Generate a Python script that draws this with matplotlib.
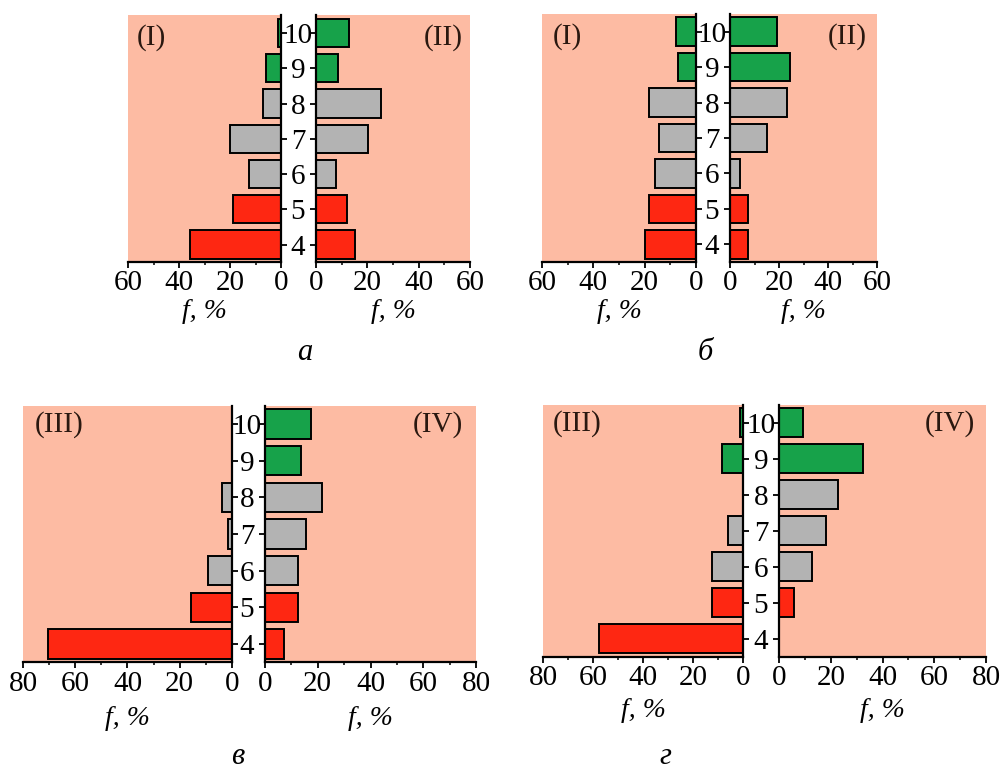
import matplotlib
matplotlib.use("Agg")
import matplotlib.pyplot as plt
import numpy as np

plt.rcParams['font.family'] = ['Liberation Serif', 'DejaVu Serif']

# grain size classes (y axis)
classes = [4, 5, 6, 7, 8, 9, 10]

# frequencies f, %
a_I = [35.7, 19, 12.5, 20, 7, 6, 1.3]
a_II = [15, 12, 7.6, 20.2, 25.5, 8.7, 12.7]
b_I = [19.8, 18.2, 15.9, 14.3, 18.5, 6.9, 7.8]
b_II = [7.5, 7.5, 4.2, 15, 23.2, 24.4, 19.1]
v_III = [70.5, 15.6, 9.2, 1.5, 3.8, 0, 0]
v_IV = [7.3, 12.7, 12.6, 15.4, 21.8, 13.6, 17.3]
g_III = [57.8, 12.6, 12.4, 6.1, 0, 8.6, 1.3]
g_IV = [0, 5.8, 12.9, 18.1, 22.7, 32.5, 9.4]

RED, GRAY, GREEN = '#fe2712', '#b3b3b3', '#17a24a'
BG = '#fdbba3'
colors = [RED, RED, GRAY, GRAY, GRAY, GREEN, GREEN]
FS = 21

fig = plt.figure(figsize=(10, 7.71), dpi=100)


def style(ax, side, lpad):
    ax.set_facecolor(BG)
    ax.set_ylim(3.5, 10.5)
    for s in ax.spines.values():
        s.set_visible(False)
    ax.spines['bottom'].set_visible(True)
    ax.spines[side].set_visible(True)
    for s in ('bottom', side):
        ax.spines[s].set_linewidth(1.6)
    ax.tick_params(axis='x', direction='out', length=4, width=1.3, pad=2,
                   labelsize=FS)
    ax.tick_params(axis='x', which='minor', direction='out', length=2.5, width=1.1)
    ax.set_xlabel('f, %', fontstyle='italic', fontsize=FS - 1, labelpad=lpad)


def pair(rect_l, rect_r, left_vals, right_vals, xmax, tag_l, tag_r, tag_pos, lpad):
    axl = fig.add_axes(rect_l)
    axr = fig.add_axes(rect_r)
    axl.barh(classes, left_vals, height=0.8, color=colors, edgecolor='black', linewidth=1.4)
    axr.barh(classes, right_vals, height=0.8, color=colors, edgecolor='black', linewidth=1.4)
    style(axl, 'right', lpad)
    style(axr, 'left', lpad)
    axl.set_xlim(xmax, 0)
    axr.set_xlim(0, xmax)
    ticks = np.arange(0, xmax + 1, 20)
    for ax in (axl, axr):
        ax.set_xticks(ticks)
        ax.set_xticks(ticks[:-1] + 10, minor=True)
        ax.set_yticks(classes)
    axl.yaxis.tick_right()
    axl.tick_params(axis='y', direction='out', length=4, width=1.3, labelright=False)
    axr.tick_params(axis='y', direction='out', length=4, width=1.3, labelsize=FS, pad=9)
    for lab in axr.get_yticklabels():
        lab.set_ha('center')
    axl.text(tag_pos[0], tag_pos[1], tag_l, transform=axl.transAxes, fontsize=FS,
             color='#2a1810', va='center', ha='left')
    axr.text(tag_pos[2], tag_pos[1], tag_r, transform=axr.transAxes, fontsize=FS,
             color='#2a1810', va='center', ha='right')


pair([0.128, 0.660, 0.153, 0.320], [0.316, 0.660, 0.154, 0.320],
     a_I, a_II, 60, '(I)', '(II)', (0.06, 0.91, 0.95), 2)
pair([0.542, 0.660, 0.154, 0.322], [0.730, 0.660, 0.147, 0.322],
     b_I, b_II, 60, '(I)', '(II)', (0.07, 0.91, 0.93), 2)
pair([0.023, 0.141, 0.209, 0.333], [0.265, 0.141, 0.211, 0.333],
     v_III, v_IV, 80, '(III)', '(IV)', (0.055, 0.925, 0.94), 7)
pair([0.543, 0.148, 0.200, 0.327], [0.779, 0.148, 0.207, 0.327],
     g_III, g_IV, 80, '(III)', '(IV)', (0.05, 0.925, 0.947), 5)

for x, y, s in [(0.305, 0.543, 'а'), (0.705, 0.543, 'б'),
                (0.238, 0.019, 'в'), (0.665, 0.019, 'г')]:
    fig.text(x, y, s, fontsize=22, fontstyle='italic', ha='center', va='center')

fig.savefig('out.png', dpi=100)
